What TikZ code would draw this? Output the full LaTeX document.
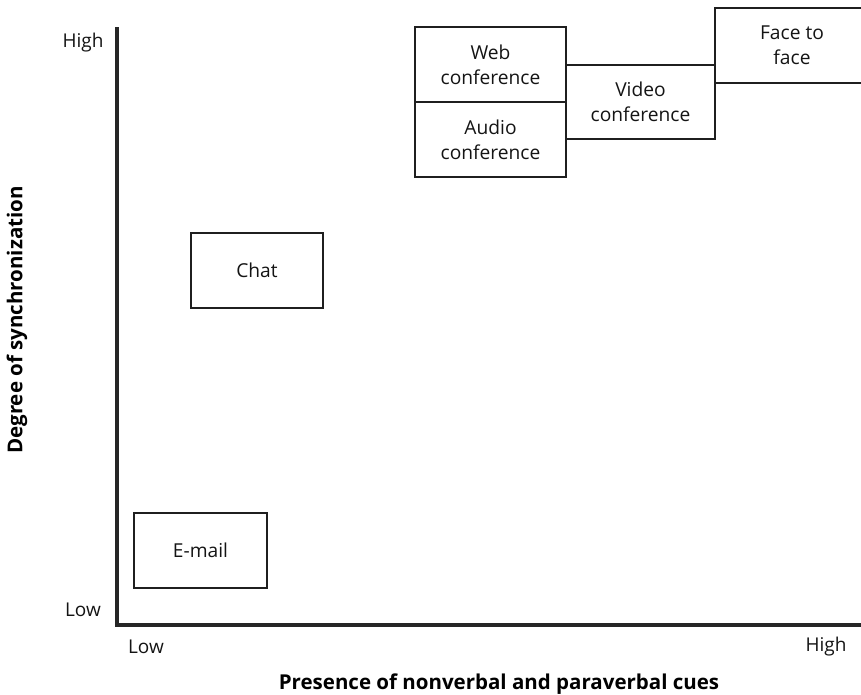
\documentclass[tikz,border=0pt]{standalone}
\usepackage{fontspec}
\setmainfont{Open Sans}
\begin{document}
\begin{tikzpicture}[x=1pt,y=-1pt,
  medium/.style={draw=black!88,line width=2pt,rectangle,inner sep=0pt,
    align=center,font=\fontsize{19.2}{25}\selectfont,text=black!92},
  axisline/.style={draw=black!85,line width=4pt},
  ticklabel/.style={font=\fontsize{19}{22}\selectfont,text=black!92,inner sep=0pt},
  axistitle/.style={font=\bfseries\fontsize{20.5}{24}\selectfont,text=black,inner sep=0pt}]
\useasboundingbox (0,0) rectangle (861,694);

% axes
\coordinate (ytop) at (117,27);
\coordinate (origin) at (117,624.5);
\coordinate (xend) at (861,624.5);
\draw[axisline] (ytop) -- (origin) -- (xend);

% axis end labels
\node[ticklabel] (yhigh) at (83,43) {High};
\node[ticklabel] (ylow) at (83,610) {Low};
\node[ticklabel] (xlow) at (146,647) {Low};
\node[ticklabel] (xhigh) at (826,647) {High};

% axis titles
\node[axistitle] (xtitle) at (499,684) {Presence of nonverbal and paraverbal cues};
\node[axistitle,rotate=90] (ytitle) at (17,320) {Degree of synchronization};

% communication media
\node[medium,minimum width=133pt,minimum height=75pt] (email) at (200.5,550.5) {E-mail};
\node[medium,minimum width=132pt,minimum height=75pt] (chat) at (257,270.5) {Chat};
\node[medium,minimum width=151pt,minimum height=75pt] (web) at (490.5,64.5) {Web\\conference};
\node[medium,minimum width=151pt,minimum height=75pt] (audio) at (490.5,139.5) {Audio\\conference};
\node[medium,minimum width=149pt,minimum height=74pt] (video) at (640.5,102) {Video\\conference};
\begin{scope}
  \clip (0,0) rectangle (861,694);
  \node[medium,minimum width=154pt,minimum height=75pt] (face) at (792,45.5) {Face to\\face};
\end{scope}
\end{tikzpicture}
\end{document}
